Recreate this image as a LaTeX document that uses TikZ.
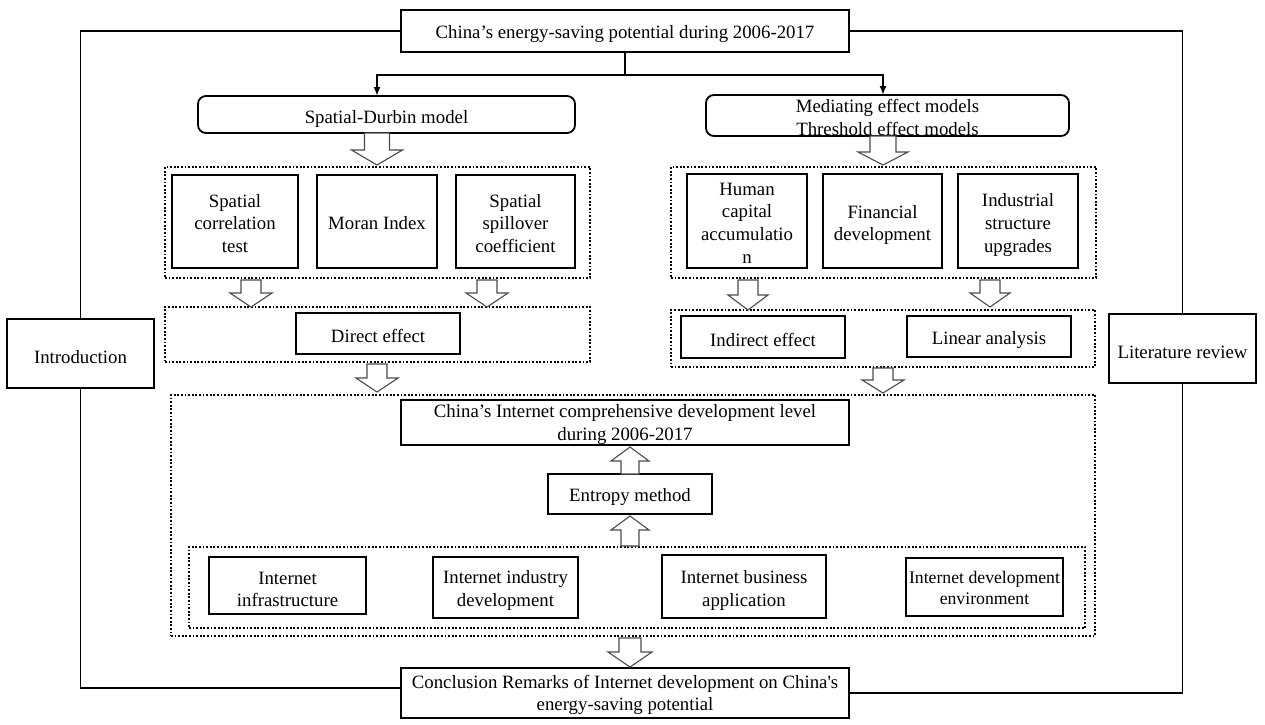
\documentclass[tikz,border=0pt]{standalone}
\usepackage{fontspec}
\setmainfont{Liberation Serif}
\usetikzlibrary{arrows.meta}
\tikzset{
  base/.style={inner sep=0pt, outer sep=0pt, align=center, font=\fontsize{18.8}{22.7}\selectfont},
  txt/.style={inner sep=0pt, outer sep=0pt, align=center, font=\fontsize{18.8}{22.7}\selectfont},
  solidbox/.style={base, draw, line width=1.8pt},
  roundbox/.style={solidbox, rounded corners=8pt},
  dotbox/.style={base, draw, line width=1.8pt, dash pattern=on 1.8pt off 1.8pt},
  conn/.style={line width=1.8pt},
  harrow/.style={draw=black!70, fill=white, line width=1.1pt, line join=miter},
}
% hollow block arrow: x, y start, y head base, y tip, shaft half width, head half width
\newcommand{\harr}[6]{%
  \draw[harrow] (#1-#5,#2) -- (#1-#5,#3) -- (#1-#6,#3) -- (#1,#4) -- (#1+#6,#3) -- (#1+#5,#3) -- (#1+#5,#2) -- cycle;}
\begin{document}
\begin{tikzpicture}[x=1pt,y=-1pt]
\useasboundingbox (0,0) rectangle (1265,724);
\fill[white] (0,0) rectangle (1265,724);

% dotted groups
\node[dotbox, minimum width=425, minimum height=111] (g1) at (377.5,222.5) {};
\node[dotbox, minimum width=425, minimum height=111] (g2) at (883.5,222.5) {};
\node[dotbox, minimum width=425, minimum height=55] (g3) at (377.5,334.5) {};
\node[dotbox, minimum width=424, minimum height=57] (g4) at (883,338.5) {};
\node[dotbox, minimum width=924, minimum height=241] (g5) at (633,515.5) {};
\node[dotbox, minimum width=896, minimum height=81] (g6) at (637,587.5) {};

% main boxes (text set as centred labels, lowered to match)
\node[solidbox, minimum width=448, minimum height=42,
  label={[txt,yshift=-3pt]center:{China’s energy-saving potential during 2006-2017}}] (top) at (625,31) {};
\node[roundbox, minimum width=377, minimum height=37,
  label={[txt,yshift=-4pt]center:{Spatial-Durbin model}}] (sdm) at (386.5,114.5) {};
\node[roundbox, minimum width=363, minimum height=41,
  label={[txt,yshift=-2pt]center:{Mediating effect models\\Threshold effect models}}] (med) at (887.5,115.5) {};

\node[solidbox, minimum width=126, minimum height=93,
  label={[txt,yshift=-2pt]center:{Spatial\\correlation\\test}}] (sct) at (235,221.5) {};
\node[solidbox, minimum width=120, minimum height=93,
  label={[txt,yshift=-2pt]center:{Moran Index}}] (moran) at (377,221.5) {};
\node[solidbox, minimum width=119, minimum height=93,
  label={[txt,yshift=-2pt]center:{Spatial\\spillover\\coefficient}}] (spill) at (515.5,221.5) {};

\node[solidbox, minimum width=120, minimum height=94,
  label={[txt,yshift=-2pt]center:{Human\\capital\\accumulatio\\n}}] (human) at (747,221) {};
\node[solidbox, minimum width=119, minimum height=94,
  label={[txt,yshift=-4pt]center:{Financial\\development}}] (fin) at (882.5,221) {};
\node[solidbox, minimum width=120, minimum height=94,
  label={[txt,yshift=-4pt]center:{Industrial\\structure\\upgrades}}] (ind) at (1018,221) {};

\node[solidbox, minimum width=164, minimum height=41,
  label={[txt,yshift=-2pt]center:{Direct effect}}] (direct) at (378,333.5) {};
\node[solidbox, minimum width=164, minimum height=42,
  label={[txt,yshift=-3pt]center:{Indirect effect}}] (indirect) at (763,337) {};
\node[solidbox, minimum width=164, minimum height=41,
  label={[txt,yshift=-3pt]center:{Linear analysis}}] (linear) at (989,336.5) {};

\node[solidbox, minimum width=147, minimum height=69,
  label={[txt,yshift=-4pt]center:{Introduction}}] (intro) at (80.5,353.5) {};
\node[solidbox, minimum width=147, minimum height=69,
  label={[txt,yshift=-4pt]center:{Literature review}}] (lit) at (1182.5,348.5) {};

\node[solidbox, minimum width=448, minimum height=45,
  label={[txt,yshift=-2pt]center:{China’s Internet comprehensive development level\\during 2006-2017}}] (cidl) at (625,422.5) {};
\node[solidbox, minimum width=164, minimum height=40,
  label={[txt,yshift=-3pt]center:{Entropy method}}] (entropy) at (630,494) {};

\node[solidbox, minimum width=157, minimum height=57,
  label={[txt,yshift=-4pt]center:{Internet\\infrastructure}}] (inf) at (287.5,585.5) {};
\node[solidbox, minimum width=145, minimum height=61,
  label={[txt,yshift=-3pt]center:{Internet industry\\development}}] (indus) at (505.5,587.5) {};
\node[solidbox, minimum width=164, minimum height=63,
  label={[txt,yshift=-4pt]center:{Internet business\\application}}] (bus) at (744,586.5) {};
\node[solidbox, minimum width=157, minimum height=58,
  label={[txt,yshift=-1pt,font=\fontsize{17.7}{21}\selectfont]center:{Internet development\\environment}}] (env) at (984.5,587) {};

\node[solidbox, minimum width=448, minimum height=50,
  label={[txt,yshift=-2pt]center:{Conclusion Remarks of Internet development on China\textquotesingle s\\energy-saving potential}}] (concl) at (625,693) {};

% connectors
\coordinate (j) at (625,75);
\draw[conn] (top.south) -- (j);
\draw[conn, -{Latex[length=9pt,width=7pt]}] (j) -| ([xshift=-9.5pt]sdm.north);
\draw[conn, -{Latex[length=9pt,width=7pt]}] (j) -| ([xshift=-4.5pt]med.north);
\draw[conn] (top.west) -| (intro.north);
\draw[conn] (intro.south) |- ([yshift=5pt]concl.west);
\draw[conn] (top.east) -| (lit.north);
\draw[conn] (lit.south) |- (concl.east);

% hollow block arrows
\harr{377}{133}{150}{165}{12.5}{25.5}
\harr{883}{136}{152}{165}{13}{25}
\harr{251}{280}{293}{307}{10}{21}
\harr{487}{280}{293}{307}{10}{21}
\harr{748}{280}{295}{310}{10}{20}
\harr{990}{280}{293}{307}{10}{20}
\harr{377}{364}{378}{392}{10}{21}
\harr{883}{368}{380}{393}{10}{21}
\harr{630}{474}{461}{447}{9}{19}
\harr{630}{546}{530}{516}{9}{19}
\harr{630}{638}{652}{667}{11}{22}
\end{tikzpicture}
\end{document}
